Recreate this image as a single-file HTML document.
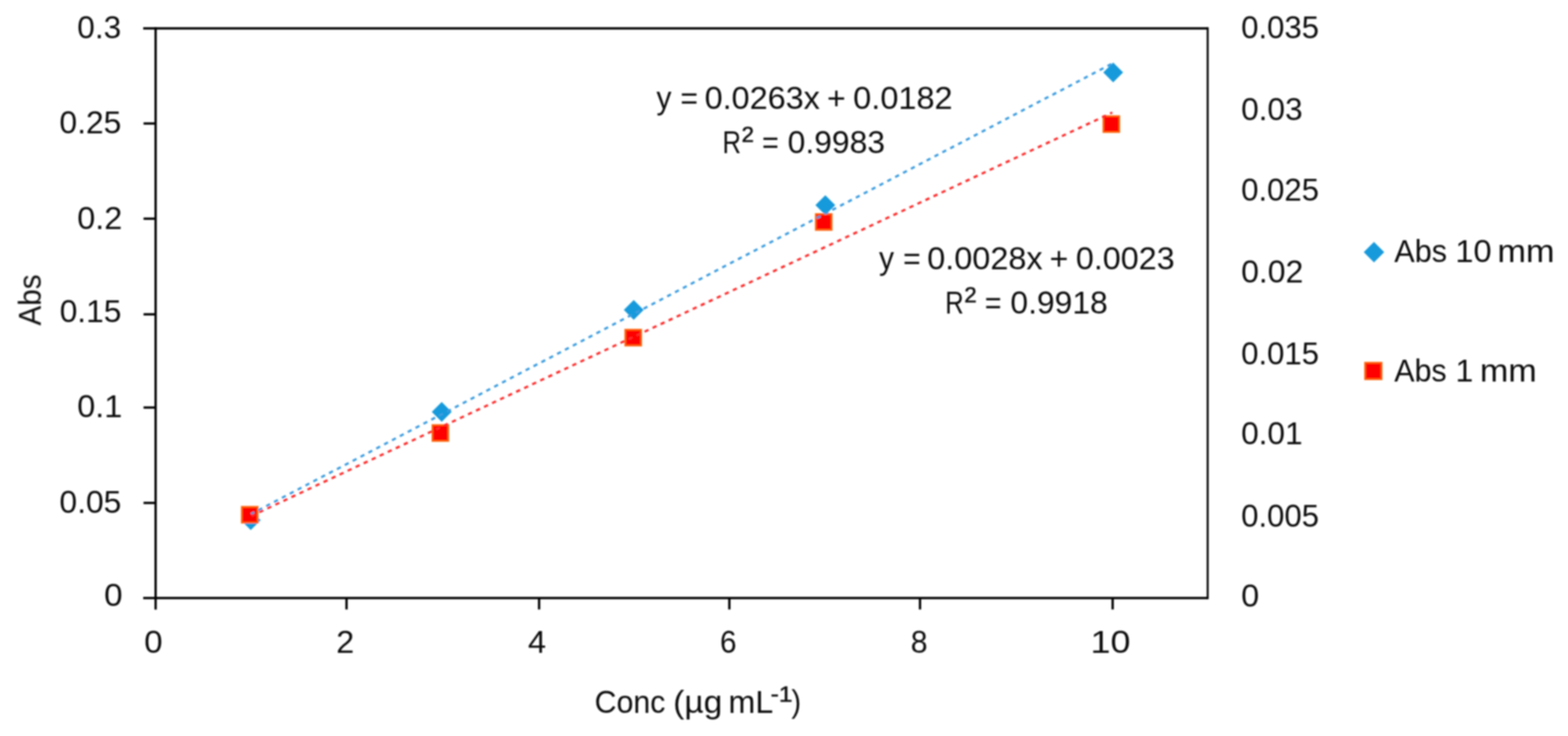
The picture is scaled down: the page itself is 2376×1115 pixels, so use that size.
<!DOCTYPE html>
<html lang="en"><head><meta charset="utf-8"><title>Abs vs Conc calibration chart</title>
<style>
html,body{margin:0;padding:0;background:#fff;width:2376px;height:1115px;overflow:hidden}
svg{display:block}
text{font-family:"Liberation Sans",Arial,sans-serif;font-size:48px;fill:#111}
.sup{stroke:#111;stroke-width:0.7px}
</style></head><body>
<svg width="2376" height="1115" viewBox="0 0 2376 1115" role="img" aria-label="Abs versus Conc calibration chart">
<defs><filter id="b" filterUnits="userSpaceOnUse" x="0" y="0" width="2376" height="1115"><feGaussianBlur stdDeviation="0.8"/></filter></defs><rect width="2376" height="1115" fill="#fff"/>
<g filter="url(#b)">
<g stroke="#000" stroke-width="3.5" fill="none">
<path d="M235.8 41.25 V923.5"/>
<path d="M217 906.0 H1830"/>
<path d="M217 43.0 H1830"/>
<path d="M1830 41.25 V907.75" stroke-width="2.98"/>
<path d="M217.5 187.1 H235.8"/>
<path d="M217.5 331.3 H235.8"/>
<path d="M217.5 476.2 H235.8"/>
<path d="M217.5 617.4 H235.8"/>
<path d="M217.5 761.9 H235.8"/>
<path d="M525.1 906.0 V923.3"/>
<path d="M816.9 906.0 V923.3"/>
<path d="M1105.2 906.0 V923.3"/>
<path d="M1394.1 906.0 V923.3"/>
<path d="M1686 906.0 V923.3"/>
</g>
<g fill="#159adb">
<path d="M380 773L395 788L380 803L365 788Z"/>
<path d="M669.3 608.9L684.3 623.9L669.3 638.9L654.3 623.9Z"/>
<path d="M960.3 454.4L975.3 469.4L960.3 484.4L945.3 469.4Z"/>
<path d="M1250.6 295.7L1265.6 310.7L1250.6 325.7L1235.6 310.7Z"/>
<path d="M1686.8 94.7L1701.8 109.7L1686.8 124.7L1671.8 109.7Z"/>
</g>
<g fill="#ff0000" stroke="#ff6410" stroke-width="2.6">
<rect x="366.4" y="767.8" width="24.0" height="24.0"/>
<rect x="655.3" y="644" width="24.0" height="24.0"/>
<rect x="947.5" y="499.5" width="24.0" height="24.0"/>
<rect x="1236.2" y="324.3" width="24.0" height="24.0"/>
<rect x="1672" y="176" width="24.0" height="24.0"/>
</g>
<g fill="none" stroke-width="3.4">
<path d="M380.5 778.7 L1685.5 96.2" stroke="#3c9de0" stroke-dasharray="6.5 6.945" stroke-dashoffset="1.05"/>
<path d="M380.5 781.8 L1685.5 170.5" stroke="#ff2a2a" stroke-dasharray="6.5 6.93" stroke-dashoffset="-0.38"/>
</g>
<path d="M2082 366.5L2097.5 382L2082 397.5L2066.5 382Z" fill="#159adb"/>
<rect x="2068.5" y="549.5" width="25.0" height="25.0" fill="#ff0000" stroke="#ff6410" stroke-width="2.6"/>
<text x="117.1" y="57.7" textLength="66.63" lengthAdjust="spacingAndGlyphs">0.3</text>
<text x="90.09" y="202.2" textLength="93.84" lengthAdjust="spacingAndGlyphs">0.25</text>
<text x="117.05" y="346.9" textLength="68.24" lengthAdjust="spacingAndGlyphs">0.2</text>
<text x="90.4" y="487.9" textLength="93.53" lengthAdjust="spacingAndGlyphs">0.15</text>
<text x="117.05" y="632.4" textLength="68.24" lengthAdjust="spacingAndGlyphs">0.1</text>
<text x="90.09" y="776.9" textLength="93.84" lengthAdjust="spacingAndGlyphs">0.05</text>
<text x="157.8" y="917.8" textLength="27.98" lengthAdjust="spacingAndGlyphs">0</text>
<text x="1880.73" y="57.7" textLength="118.05" lengthAdjust="spacingAndGlyphs">0.035</text>
<text x="1880.71" y="182.1" textLength="93.11" lengthAdjust="spacingAndGlyphs">0.03</text>
<text x="1880.73" y="303.5" textLength="118.05" lengthAdjust="spacingAndGlyphs">0.025</text>
<text x="1880.68" y="427.7" textLength="94.26" lengthAdjust="spacingAndGlyphs">0.02</text>
<text x="1880.73" y="552.1" textLength="118.05" lengthAdjust="spacingAndGlyphs">0.015</text>
<text x="1880.71" y="673" textLength="93.11" lengthAdjust="spacingAndGlyphs">0.01</text>
<text x="1880.73" y="797.7" textLength="118.05" lengthAdjust="spacingAndGlyphs">0.005</text>
<text x="1880.66" y="918.5" textLength="27.28" lengthAdjust="spacingAndGlyphs">0</text>
<text x="218.41" y="988.6" textLength="27.86" lengthAdjust="spacingAndGlyphs">0</text>
<text x="509.56" y="988.6" textLength="27.19" lengthAdjust="spacingAndGlyphs">2</text>
<text x="800.07" y="988.6" textLength="27.48" lengthAdjust="spacingAndGlyphs">4</text>
<text x="1091.02" y="988.6" textLength="25.08" lengthAdjust="spacingAndGlyphs">6</text>
<text x="1380.09" y="988.6" textLength="25.54" lengthAdjust="spacingAndGlyphs">8</text>
<text x="1652.57" y="988.6" textLength="60.4" lengthAdjust="spacingAndGlyphs">10</text>
<text><tspan x="994.7" y="165.3" textLength="22.7" lengthAdjust="spacingAndGlyphs">y</tspan> <tspan x="1031" y="165.3" textLength="26.63" lengthAdjust="spacingAndGlyphs">=</tspan> <tspan x="1067.65" y="165.3" textLength="174.78" lengthAdjust="spacingAndGlyphs">0.0263x</tspan> <tspan x="1253.18" y="165.3" textLength="28.26" lengthAdjust="spacingAndGlyphs">+</tspan> <tspan x="1292.85" y="165.3" textLength="150.64" lengthAdjust="spacingAndGlyphs">0.0182</tspan></text>
<text><tspan x="1332.1" y="407.9" textLength="22.7" lengthAdjust="spacingAndGlyphs">y</tspan> <tspan x="1368.4" y="407.9" textLength="26.63" lengthAdjust="spacingAndGlyphs">=</tspan> <tspan x="1405.05" y="407.9" textLength="174.78" lengthAdjust="spacingAndGlyphs">0.0028x</tspan> <tspan x="1590.58" y="407.9" textLength="28.26" lengthAdjust="spacingAndGlyphs">+</tspan> <tspan x="1630.26" y="407.9" textLength="149.58" lengthAdjust="spacingAndGlyphs">0.0023</tspan></text>
<text><tspan x="1094.86" y="232.3" textLength="28.11" lengthAdjust="spacingAndGlyphs">R</tspan><tspan x="1123.73" y="215.1" textLength="18.72" lengthAdjust="spacingAndGlyphs" font-size="32.5" class="sup">2</tspan> <tspan x="1154.79" y="232.3" textLength="25.34" lengthAdjust="spacingAndGlyphs">=</tspan> <tspan x="1193.59" y="232.3" textLength="147.43" lengthAdjust="spacingAndGlyphs">0.9983</tspan></text>
<text><tspan x="1432.36" y="475.2" textLength="28.11" lengthAdjust="spacingAndGlyphs">R</tspan><tspan x="1461.23" y="458" textLength="18.72" lengthAdjust="spacingAndGlyphs" font-size="32.5" class="sup">2</tspan> <tspan x="1492.29" y="475.2" textLength="25.34" lengthAdjust="spacingAndGlyphs">=</tspan> <tspan x="1531.09" y="475.2" textLength="147.43" lengthAdjust="spacingAndGlyphs">0.9918</tspan></text>
<text><tspan x="2112.7" y="397.2" textLength="79.96" lengthAdjust="spacingAndGlyphs">Abs</tspan> <tspan x="2205.18" y="397.2" textLength="54.95" lengthAdjust="spacingAndGlyphs">10</tspan> <tspan x="2268.95" y="397.2" textLength="86.67" lengthAdjust="spacingAndGlyphs">mm</tspan></text>
<text><tspan x="2112.7" y="578.1" textLength="79.45" lengthAdjust="spacingAndGlyphs">Abs</tspan> <tspan x="2205.56" y="578.1" textLength="26.97" lengthAdjust="spacingAndGlyphs">1</tspan> <tspan x="2242.46" y="578.1" textLength="86.24" lengthAdjust="spacingAndGlyphs">mm</tspan></text>
<text><tspan x="901.09" y="1079.5" textLength="107.23" lengthAdjust="spacingAndGlyphs">Conc</tspan> <tspan x="1020.13" y="1079.5" textLength="74.3" lengthAdjust="spacingAndGlyphs">(µg</tspan> <tspan x="1103.74" y="1079.5" textLength="67.98" lengthAdjust="spacingAndGlyphs">mL</tspan><tspan x="1167.82" y="1062.7" textLength="32.91" lengthAdjust="spacingAndGlyphs" font-size="34" class="sup">-1</tspan><tspan x="1199.18" y="1078.5" textLength="14.65" lengthAdjust="spacingAndGlyphs">)</tspan></text>
<text transform="translate(61.8 493.2) rotate(-90)" x="0" y="0" textLength="77.51" lengthAdjust="spacingAndGlyphs">Abs</text>
</g>
</svg>
</body></html>
